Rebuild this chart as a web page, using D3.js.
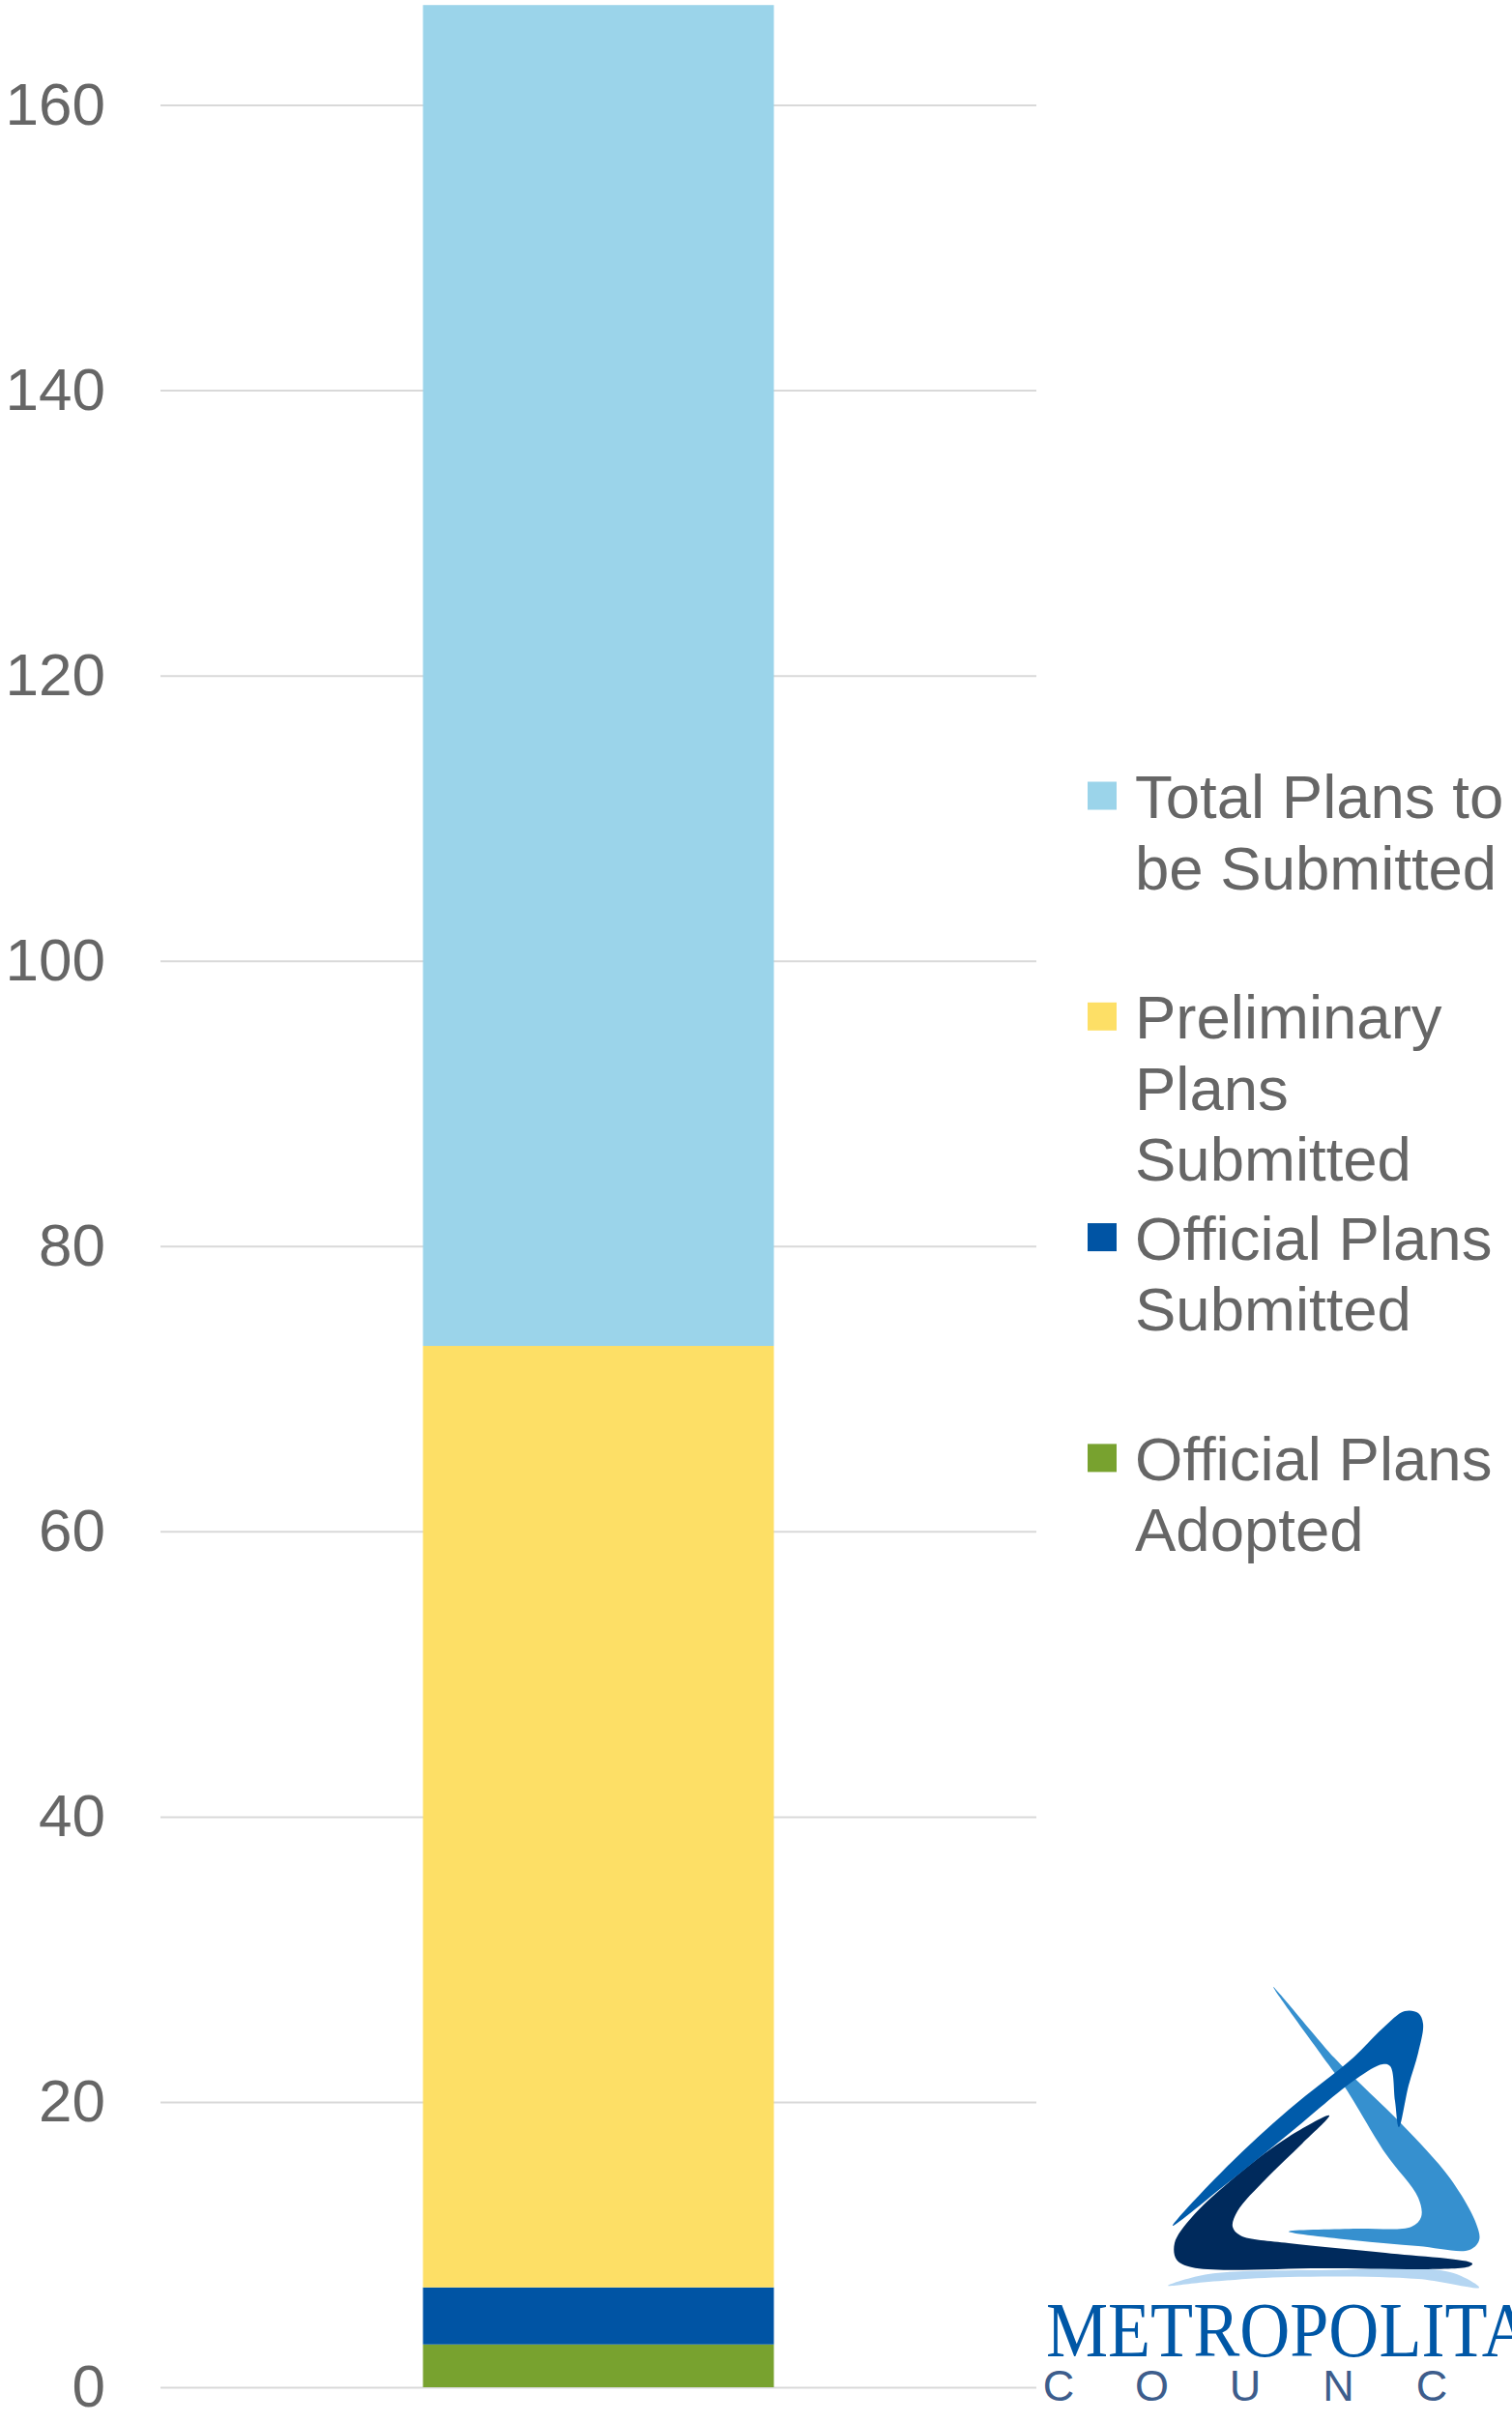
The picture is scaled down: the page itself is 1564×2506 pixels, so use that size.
<!DOCTYPE html>
<html lang="en">
<head>
<meta charset="UTF-8">
<title>Plans</title>
<script src="https://d3js.org/d3.v7.min.js"></script>
<style>
  body { margin: 0; background: #fff; }
  svg { display: block; }
</style>
</head>
<body>
<div id="chart"></div>
<script>
// data
var categories = ["Plans"];
var seriesNames = ["Official Plans Adopted", "Official Plans Submitted", "Preliminary Plans Submitted", "Total Plans to be Submitted"];
var seriesValues = [3, 4, 66, 94];
var seriesColors = ["#78a22f", "#0054a4", "#fddf66", "#9bd4ea"];
var legendLines = [["Total Plans to", "be Submitted"], ["Preliminary", "Plans", "Submitted"], ["Official Plans", "Submitted"], ["Official Plans", "Adopted"]];
var legendColors = ["#9bd4ea", "#fddf66", "#0054a4", "#78a22f"];
var tickValues = [0, 20, 40, 60, 80, 100, 120, 140, 160];

// logo outline points (decoration only)
var logoLight = [[1317,2055],[1380,2128],[1407,2155],[1450,2197],[1500,2253],[1527,2300],[1530,2317],[1520,2327],[1467,2323],[1400,2317],[1333,2308],
                 [1400,2305],[1460,2303],[1470,2293],[1467,2273],[1433,2227],[1392,2160],[1374,2135]];
var logoMid = [[1213,2302],[1267,2243],[1333,2182],[1400,2128],[1430,2098],[1453,2080],[1467,2082],[1472,2093],[1467,2123],[1457,2157],[1447,2200],
               [1443,2173],[1438,2137],[1430,2135],[1403,2150],[1333,2207],[1267,2260]];
var logoDark = [[1375,2188],[1333,2210],[1283,2247],[1233,2293],[1215,2320],[1217,2337],[1233,2345],[1367,2346],[1520,2344],[1523,2341],
                [1433,2330],[1333,2320],[1283,2312],[1275,2303],[1280,2287],[1310,2253],[1347,2217]];
var logoShine = [[1208,2364],[1250,2352],[1367,2348],[1500,2350],[1530,2366],[1467,2357],[1333,2355],[1250,2360]];

var W = 1564, H = 2506;
var svg = d3.select("#chart").append("svg").attr("width", W).attr("height", H);

var x = d3.scaleBand().domain(categories).range([166, 1072]).paddingInner(0).paddingOuter(0.748);
var y = d3.scaleLinear().domain([0, 160]).range([2469, 108.5]);

// gridlines
var grid = svg.append("g").attr("transform", "translate(166,0)")
  .call(d3.axisLeft(y).tickValues(tickValues).tickSize(-(1072 - 166)).tickFormat(""));
grid.select(".domain").remove();
grid.selectAll("line").attr("stroke", "#d9d9d9").attr("stroke-width", 2);

// tick labels
var ax = svg.append("g").attr("transform", "translate(166,0)")
  .call(d3.axisLeft(y).tickValues(tickValues).tickSize(0).tickPadding(57));
ax.select(".domain").remove();
ax.selectAll("text").attr("fill", "#666")
  .style("font-size", "62px").style("font-family", "Liberation Sans, Arial, sans-serif");

// stacked bar
var stackRow = {cat: categories[0]};
seriesNames.forEach(function(n, i) { stackRow[n] = seriesValues[i]; });
var stacked = d3.stack().keys(seriesNames)([stackRow]);

svg.append("g").selectAll("rect")
  .data(stacked)
  .enter()
  .append("rect")
  .attr("x", function(d) { return x(d[0].data.cat); })
  .attr("width", x.bandwidth())
  .attr("y", function(d) { return y(d[0][1]); })
  .attr("height", function(d) { return y(d[0][0]) - y(d[0][1]); })
  .attr("fill", function(d, i) { return seriesColors[i]; });

// legend
var lg = svg.append("g").selectAll("g")
  .data(legendLines)
  .enter()
  .append("g")
  .attr("transform", function(d, i) { return "translate(0," + (823 + i * 228.3) + ")"; });

lg.append("rect")
  .attr("x", 1125).attr("y", -14.5).attr("width", 30).attr("height", 29)
  .attr("fill", function(d, i) { return legendColors[i]; });

lg.each(function(lines) {
  var g = d3.select(this);
  lines.forEach(function(t, j) {
    g.append("text")
      .attr("x", 1174).attr("y", 23 + j * 73.5)
      .attr("fill", "#666")
      .style("font-size", "63.5px").style("font-family", "Liberation Sans, Arial, sans-serif")
      .text(t);
  });
});

// logo
var logo = svg.append("g");
var shape = d3.line().curve(d3.curveCatmullRomClosed.alpha(0.5));
logo.append("path").attr("d", shape(logoShine)).attr("fill", "#b5d6f2");
logo.append("path").attr("d", shape(logoDark)).attr("fill", "#002a5c");
logo.append("path").attr("d", shape(logoLight)).attr("fill", "#3690cf");
logo.append("path").attr("d", shape(logoMid)).attr("fill", "#005baa");

logo.append("text")
  .attr("transform", "translate(1082,2437) scale(0.89,1)")
  .attr("fill", "#0057a6")
  .style("font-family", "Liberation Serif, Times New Roman, serif")
  .style("font-size", "81px")
  .text("METROPOLITAN");

var council = "COUNCIL".split("");
logo.selectAll(".cl").data(council).enter().append("text")
  .attr("class", "cl")
  .attr("x", function(d, i) { return 1095 + i * 96.5; })
  .attr("y", 2483)
  .attr("text-anchor", "middle")
  .attr("fill", "#3d5d8c")
  .style("font-family", "Liberation Sans, Arial, sans-serif")
  .style("font-size", "45px")
  .text(function(d) { return d; });
</script>
</body>
</html>
